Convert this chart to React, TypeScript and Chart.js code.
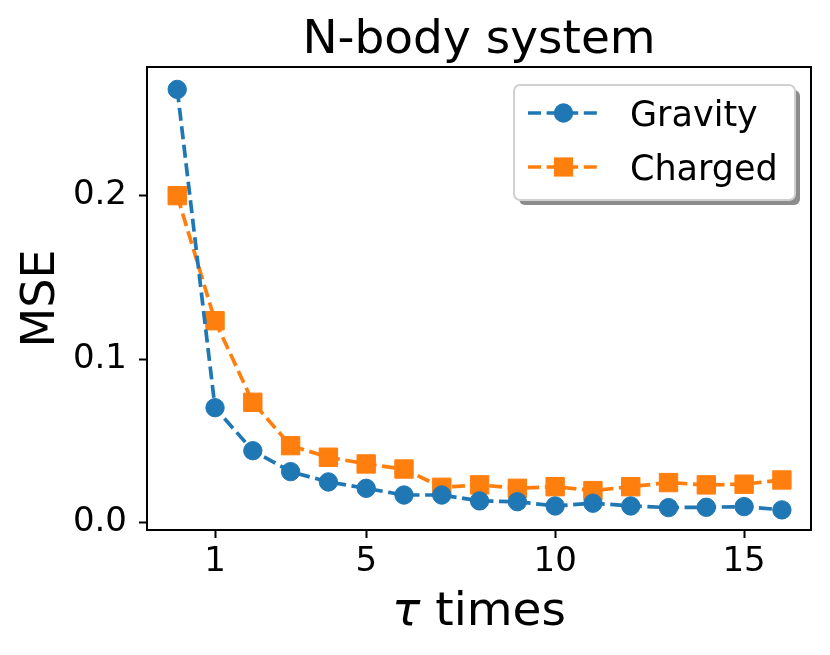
import { useEffect, useRef } from "react";
import { Chart, registerables } from "chart.js";

Chart.register(...registerables);

// tau steps (x) and MSE
const tauSteps = [0, 1, 2, 3, 4, 5, 6, 7, 8, 9, 10, 11, 12, 13, 14, 15, 16];
const gravityMse = [0.265, 0.0703, 0.044, 0.0312, 0.0249, 0.021, 0.0169, 0.0169, 0.0133, 0.0128, 0.0102, 0.0119, 0.0102, 0.0092, 0.0094, 0.0098, 0.0078];
const chargedMse = [0.2, 0.1235, 0.0736, 0.0471, 0.04, 0.0359, 0.0328, 0.0216, 0.0231, 0.021, 0.022, 0.0196, 0.022, 0.0245, 0.0231, 0.0235, 0.0261];
const xTicks = [1, 5, 10, 15];
const yTicks = [0, 0.1, 0.2];

const BLUE = "#1f77b4";
const ORANGE = "#ff7f0e";
const FONT = "'DejaVu Sans', sans-serif";
const DASH = [13, 5.6];

const decorations = {
  id: "decorations",
  afterDraw(chart: any) {
    const { ctx, chartArea } = chart;
    const { left, right, top, bottom } = chartArea;
    const cx = (left + right) / 2;
    ctx.save();

    // axes frame
    ctx.strokeStyle = "#000";
    ctx.lineWidth = 2;
    ctx.strokeRect(left, top, right - left, bottom - top);

    ctx.fillStyle = "#000";
    ctx.textBaseline = "alphabetic";

    // title
    ctx.font = `47px ${FONT}`;
    ctx.textAlign = "center";
    ctx.fillText("N-body system", cx, 53);

    // x label: italic tau + " times"
    const tau = "\u03c4";
    const rest = " times";
    ctx.font = `italic 47px ${FONT}`;
    const wTau = ctx.measureText(tau).width;
    ctx.font = `47px ${FONT}`;
    const wRest = ctx.measureText(rest).width;
    const x0 = cx - (wTau + wRest) / 2;
    ctx.textAlign = "left";
    ctx.font = `italic 47px ${FONT}`;
    ctx.fillText(tau, x0, 625);
    ctx.font = `47px ${FONT}`;
    ctx.fillText(rest, x0 + wTau, 625);

    // y label
    ctx.save();
    ctx.translate(54, (top + bottom) / 2);
    ctx.rotate(-Math.PI / 2);
    ctx.textAlign = "center";
    ctx.font = `46px ${FONT}`;
    ctx.fillText("MSE", 0, 0);
    ctx.restore();

    // legend box with shadow
    const bw = 281, bh = 115;
    const bx = right - 16 - bw, by = top + 18;
    const rr = 6;
    const roundRect = (x: number, y: number) => {
      ctx.beginPath();
      ctx.roundRect(x, y, bw, bh, rr);
    };
    roundRect(bx + 5, by + 5);
    ctx.fillStyle = "rgba(0,0,0,0.45)";
    ctx.fill();
    roundRect(bx, by);
    ctx.fillStyle = "#fff";
    ctx.fill();
    ctx.strokeStyle = "#d0d0d0";
    ctx.lineWidth = 2;
    ctx.stroke();

    const items = chart.data.datasets.map((ds: any, i: number) => ({
      label: ds.label,
      color: ds.borderColor,
      style: ds.pointStyle,
      y: by + 28 + i * 54,
    }));
    items.forEach((it: any) => {
      const lx0 = bx + 14, lx1 = bx + 85, mx = bx + 49.5;
      ctx.strokeStyle = it.color;
      ctx.lineWidth = 3.5;
      ctx.setLineDash(DASH);
      ctx.beginPath();
      ctx.moveTo(lx0, it.y);
      ctx.lineTo(lx1, it.y);
      ctx.stroke();
      ctx.setLineDash([]);
      ctx.fillStyle = it.color;
      if (it.style === "rect") {
        ctx.fillRect(mx - 9.6, it.y - 9.6, 19.2, 19.2);
      } else {
        ctx.beginPath();
        ctx.arc(mx, it.y, 9.7, 0, Math.PI * 2);
        ctx.fill();
      }
      ctx.fillStyle = "#000";
      ctx.font = `35px ${FONT}`;
      ctx.textAlign = "left";
      ctx.fillText(it.label, bx + 116, it.y + 12.5);
    });

    ctx.restore();
  },
};

export default function App() {
  const canvasRef = useRef<HTMLCanvasElement | null>(null);

  useEffect(() => {
    document.body.style.margin = "0";
    if (!canvasRef.current) return;

    const chart = new Chart(canvasRef.current, {
      type: "line",
      data: {
        datasets: [
          {
            label: "Gravity",
            data: tauSteps.map((t, i) => ({ x: t, y: gravityMse[i] })),
            borderColor: BLUE,
            backgroundColor: BLUE,
            borderWidth: 3.7,
            borderDash: DASH,
            pointStyle: "circle",
            pointRadius: 9.2,
            pointBorderWidth: 1,
            pointBorderColor: BLUE,
            pointBackgroundColor: BLUE,
            tension: 0,
          },
          {
            label: "Charged",
            data: tauSteps.map((t, i) => ({ x: t, y: chargedMse[i] })),
            borderColor: ORANGE,
            backgroundColor: ORANGE,
            borderWidth: 3.7,
            borderDash: DASH,
            pointStyle: "rect",
            pointRadius: 13,
            pointBorderWidth: 1,
            pointBorderColor: ORANGE,
            pointBackgroundColor: ORANGE,
            tension: 0,
          },
        ],
      },
      options: {
        responsive: false,
        animation: false,
        devicePixelRatio: 1,
        layout: { padding: { top: 67, right: 19, left: 0, bottom: 0 } },
        plugins: {
          legend: { display: false },
          title: { display: false },
          tooltip: { enabled: false },
        },
        scales: {
          x: {
            type: "linear",
            min: -0.8,
            max: 16.77,
            afterBuildTicks: (scale: any) => {
              scale.ticks = xTicks.map((v) => ({ value: v }));
            },
            afterFit: (scale: any) => {
              scale.height = 125;
            },
            grid: { drawOnChartArea: false, drawTicks: true, tickLength: 8, tickWidth: 2, tickColor: "#000" },
            border: { display: false },
            ticks: {
              color: "#000",
              font: { family: FONT, size: 34 },
              padding: 4,
              maxRotation: 0,
              autoSkip: false,
              callback: (v: any) => String(v),
            },
          },
          y: {
            type: "linear",
            min: -0.0045,
            max: 0.2787,
            afterBuildTicks: (scale: any) => {
              scale.ticks = yTicks.map((v) => ({ value: v }));
            },
            afterFit: (scale: any) => {
              scale.width = 147;
            },
            grid: { drawOnChartArea: false, drawTicks: true, tickLength: 8, tickWidth: 2, tickColor: "#000" },
            border: { display: false },
            ticks: {
              color: "#000",
              font: { family: FONT, size: 34 },
              padding: 12,
              autoSkip: false,
              callback: (v: any) => Number(v).toFixed(1),
            },
          },
        },
      },
      plugins: [decorations],
    });

    return () => chart.destroy();
  }, []);

  return (
    <div style={{ width: 830, height: 655, background: "#fff" }}>
      <canvas ref={canvasRef} width={830} height={655} style={{ display: "block" }} />
    </div>
  );
}
